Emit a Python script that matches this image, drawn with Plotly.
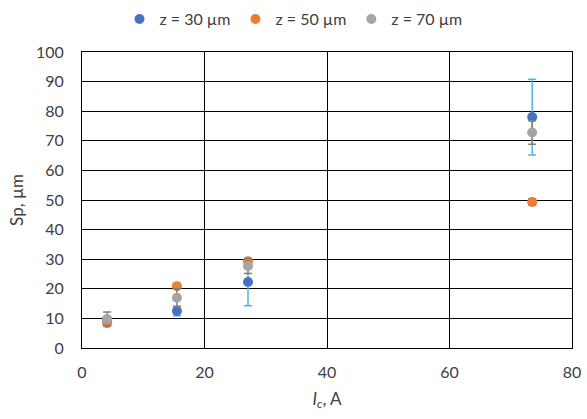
import plotly.graph_objects as go

series_names = ["z = 30 µm", "z = 50 µm", "z = 70 µm"]
x_vals = [4.1, 15.5, 27.1, 73.5]
y_z30 = [9.5, 12.5, 22.3, 78.0]
err_z30 = [1.0, 1.6, 8.0, 12.8]
y_z50 = [8.4, 20.9, 29.3, 49.3]
err_z50 = [0.6, 0.6, 0.6, 1.0]
y_z70 = [9.8, 17.0, 27.7, 72.8]
err_z70 = [2.4, 3.0, 2.5, 4.0]

colors = ["#4472C4", "#ED7D31", "#A5A5A5"]
err_colors = ["#4FB3E8", "#404040", "#7F7F7F"]

fig = go.Figure()
for name, ys, es, c, ec in zip(series_names, [y_z30, y_z50, y_z70],
                               [err_z30, err_z50, err_z70], colors, err_colors):
    fig.add_trace(go.Scatter(
        x=x_vals, y=ys, mode="markers", name=name,
        marker=dict(color=c, size=10),
        error_y=dict(type="data", array=es, visible=True, color=ec,
                     thickness=1.5, width=4),
    ))

fig.update_layout(
    width=587, height=419,
    margin=dict(l=82, r=15, t=52, b=71),
    plot_bgcolor="white", paper_bgcolor="white",
    font=dict(family="Lato, Liberation Sans, sans-serif", size=16, color="#404040"),
    showlegend=True,
    legend=dict(orientation="h", x=0.5, xanchor="center", xref="container",
                y=0.995, yanchor="top", yref="container",
                font=dict(size=16, color="#404040"), itemwidth=30),
    xaxis=dict(range=[0, 80], dtick=20, showgrid=True, gridcolor="black", gridwidth=1,
               showline=True, linecolor="black", linewidth=1, mirror=True,
               zeroline=False, ticks="outside", ticklen=10, tickcolor="rgba(0,0,0,0)",
               tickfont=dict(size=16), automargin=False,
               title=dict(text="<i>I<sub>c</sub></i>, A", font=dict(size=17), standoff=12)),
    yaxis=dict(range=[0, 100], dtick=10, showgrid=True, gridcolor="black", gridwidth=1,
               showline=True, linecolor="black", linewidth=1, mirror=True,
               zeroline=False, ticks="outside", ticklen=14, tickcolor="rgba(0,0,0,0)",
               tickfont=dict(size=16), automargin=False,
               title=dict(text="Sp, µm", font=dict(size=17), standoff=8)),
)

fig.write_html("out.html", config={"displayModeBar": False},
               post_script="document.body.style.margin='0px';")
